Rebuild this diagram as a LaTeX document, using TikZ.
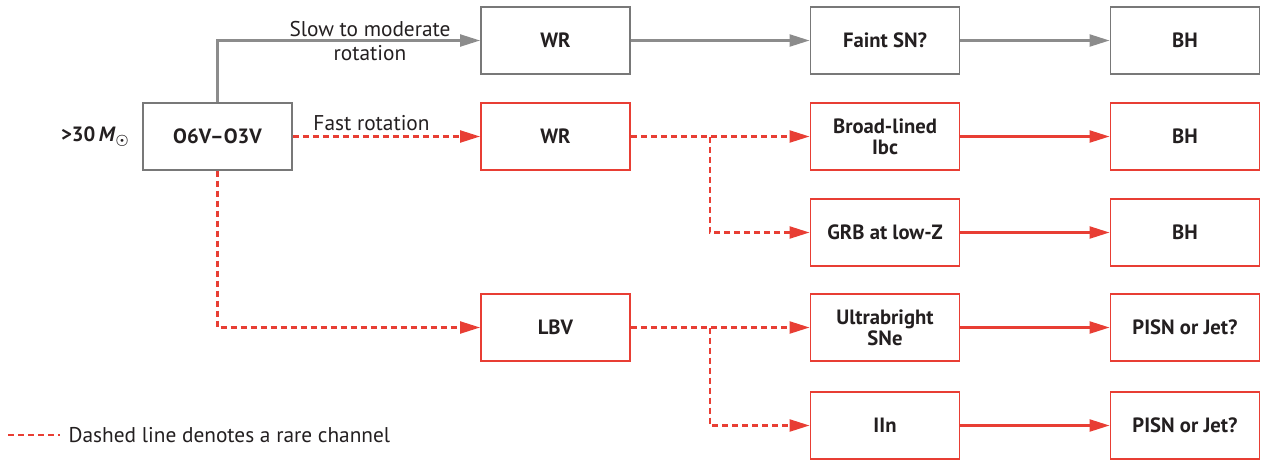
\documentclass[tikz,border=0pt]{standalone}
\usepackage{fontspec}
\setmainfont{PT Sans}
\usetikzlibrary{arrows.meta,positioning}
\definecolor{chanred}{RGB}{232,62,52}
\definecolor{changray}{RGB}{140,140,140}
\definecolor{boxgray}{RGB}{120,120,120}
\definecolor{txt}{RGB}{35,31,32}
\begin{document}
\begin{tikzpicture}
[x=0.75pt,y=-0.75pt,>={Triangle[length=15pt,width=9pt]},
 stage/.style={draw=boxgray,line width=1.2pt,minimum width=112pt,minimum height=50pt,align=center,text=txt,inner sep=0pt,font=\bfseries\fontsize{15.5}{16}\selectfont},
 rarestage/.style={stage,draw=chanred},
 slow/.style={changray,line width=1.7pt,->},
 fast/.style={chanred,line width=1.7pt,->},
 rare/.style={fast,dash pattern=on 4.5pt off 3pt},
 lbl/.style={text=txt,align=center,font=\fontsize{16}{18}\selectfont}]

% the frame of the picture
\useasboundingbox (0,0) rectangle (1268,465);

% the star and its main branches
\node[stage] (star) at (217.5,136.5) {O6V--O3V};
\node[lbl,left=6pt of star,font=\bfseries\boldmath\fontsize{15.5}{16}\selectfont] (mass) {>30\,\textit{M}$_{\odot}$};

\node[stage] (wrslow) at (555.5,40.5) {WR};
\node[stage] (faint) at (885,40.5) {Faint SN?};
\node[stage] (bhslow) at (1185,40.5) {BH};

\node[rarestage] (wrfast) at (555.5,136.5) {WR};
\node[rarestage] (broad) at (885,136.5) {Broad-lined\\Ibc};
\node[rarestage] (bhbroad) at (1185,136.5) {BH};
\node[rarestage] (grb) at (885,232.5) {GRB at low-Z};
\node[rarestage] (bhgrb) at (1185,232.5) {BH};

\node[rarestage] (lbv) at (555.5,327.5) {LBV};
\node[rarestage] (ultra) at (885,327.5) {Ultrabright\\SNe};
\node[rarestage] (pisnA) at (1185,327.5) {PISN or Jet?};
\node[rarestage] (iin) at (885,425.5) {IIn};
\node[rarestage] (pisnB) at (1185,425.5) {PISN or Jet?};

% the split points
\coordinate (splitwr) at (710,136.5);
\coordinate (splitlbv) at (710,327.5);

% slow rotation channel
\draw[slow] (star.north) |- (wrslow.west);
\node[lbl] (slowlbl) at (370,41) {Slow to moderate\\rotation};
\draw[slow] (wrslow) -- (faint);
\draw[slow] (faint) -- (bhslow);

% fast rotation channel
\draw[rare] (star) -- node[lbl,above,pos=0.42] (fastlbl) {Fast rotation} (wrfast);
\draw[rare] (wrfast) -- (broad);
\draw[rare] (splitwr) |- (grb.west);
\draw[fast] (broad) -- (bhbroad);
\draw[fast] (grb) -- (bhgrb);

% LBV channel
\draw[rare] (star.south) |- (lbv.west);
\draw[rare] (lbv) -- (ultra);
\draw[rare] (splitlbv) |- (iin.west);
\draw[fast] (ultra) -- (pisnA);
\draw[fast] (iin) -- (pisnB);

% the legend
\coordinate (legA) at (8,435);
\coordinate (legB) at (60,435);
\draw[chanred,line width=1.7pt,dash pattern=on 4.5pt off 3pt] (legA) -- (legB);
\node[lbl,right=3pt of legB] (legtext) {Dashed line denotes a rare channel};
\end{tikzpicture}
\end{document}
